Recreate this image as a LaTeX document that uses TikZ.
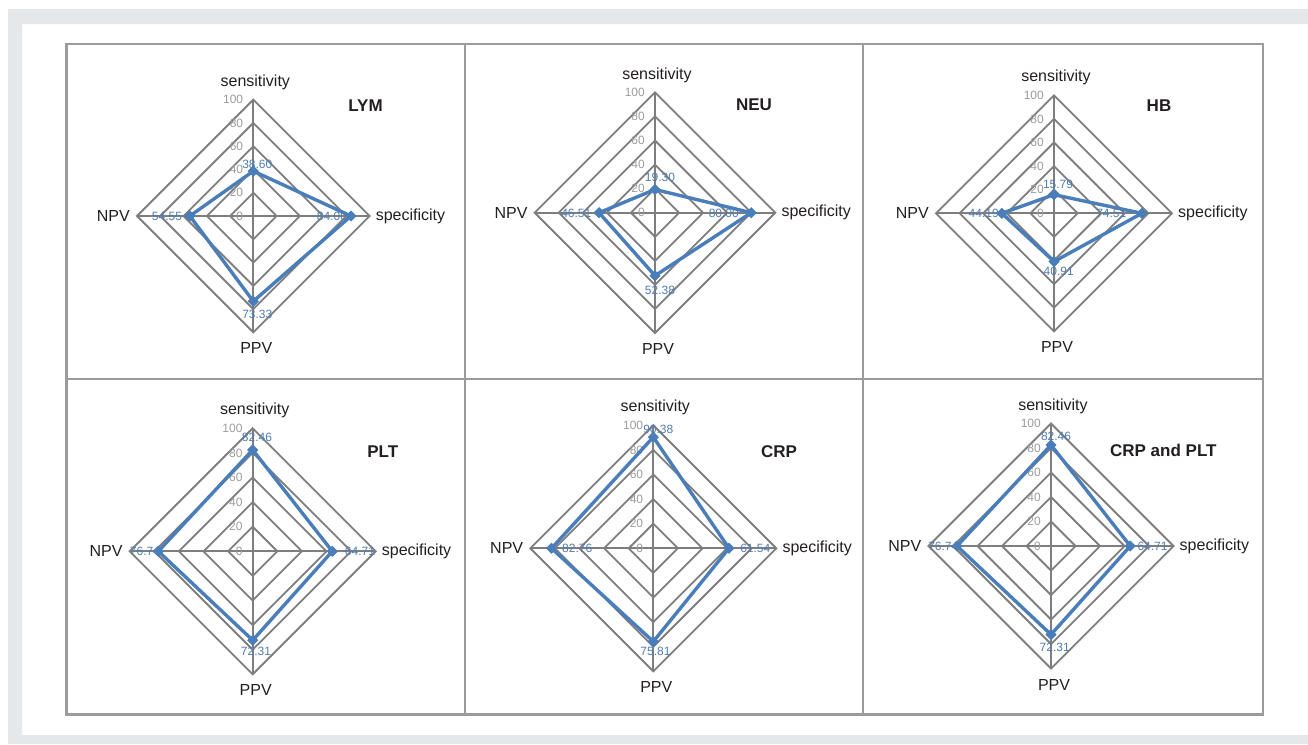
\documentclass[tikz,border=0pt]{standalone}
\usepackage{fontspec}
\setmainfont{Liberation Sans}
\usetikzlibrary{shapes.geometric}
\definecolor{gridc}{HTML}{7E7E7E}
\definecolor{tickc}{HTML}{9C9C9C}
\definecolor{datac}{HTML}{4A7EBB}
\definecolor{vlab}{HTML}{4F7DB5}
\definecolor{framec}{HTML}{9B9B9B}
\definecolor{bgc}{HTML}{E6E7E8}
\definecolor{txt}{HTML}{231F20}
\newcommand\axfont{\fontsize{16}{19}\selectfont}
\newcommand\smfont{\fontsize{12}{14}\selectfont}
\newcommand\ttlfont{\fontsize{17}{20}\selectfont\bfseries}
\tikzset{
  gridline/.style={draw=gridc, line width=1.8},
  ticklab/.style={text=tickc, font=\smfont, inner sep=0, anchor=east},
  axlab/.style={text=txt, font=\axfont, inner sep=0},
  ttl/.style={text=txt, font=\ttlfont, inner sep=0},
  vallab/.style={text=vlab, font=\smfont, inner sep=0},
  mk/.style={diamond, fill=datac, inner sep=0, minimum size=11},
  dataline/.style={draw=datac, line width=3.4, line join=round},
  framebox/.style={draw=framec, line width=2.5},
  divider/.style={draw=framec, line width=2},
}
% #1 id, #2 cx, #3 cy, #4 R, #5 sens, #6 spec, #7 ppv, #8 npv
\newcommand\radar[8]{%
\begin{scope}[shift={(#2,#3)}]
  \foreach \k in {1,...,5}
    \draw[gridline] (0,-\k*#4/5) -- (\k*#4/5,0) -- (0,\k*#4/5) -- (-\k*#4/5,0) -- cycle;
  \draw[gridline] (0,-#4) -- (0,#4);
  \draw[gridline] (-#4,0) -- (#4,0);
  \foreach \v in {0,20,40,60,80,100}
    \node[ticklab] at (-10,-\v*#4/100) {\v};
  \node[axlab] (#1-sl) at (2,-#4-17.5) {sensitivity};
  \node[axlab, anchor=west] (#1-rl) at (#4+6,0) {specificity};
  \node[axlab] (#1-pl) at (3,#4+16) {PPV};
  \node[axlab, anchor=east] (#1-nl) at (-#4-7,0) {NPV};
  \node[mk] (#1-s) at (0,-#5*#4/100) {};
  \node[mk] (#1-r) at (#6*#4/100,0) {};
  \node[mk] (#1-p) at (0,#7*#4/100) {};
  \node[mk] (#1-n) at (-#8*#4/100,0) {};
  \draw[dataline] (#1-s.center) -- (#1-r.center) -- (#1-p.center) -- (#1-n.center) -- cycle;
  \node[mk] at (#1-s) {};
  \node[mk] at (#1-r) {};
  \node[mk] at (#1-p) {};
  \node[mk] at (#1-n) {};
\end{scope}}
\begin{document}
\begin{tikzpicture}[x=1pt,y=-1pt]
\useasboundingbox (0,0) rectangle (1308,744);
\fill[white] (0,0) rectangle (1308,744);
\fill[bgc] (8,9) -- (1308,9) -- (1308,24) -- (22,24) -- (22,735) -- (1308,735) -- (1308,744) -- (8,744) -- cycle;
% frame
\draw[divider] (465,44) -- (465,714.5);
\draw[divider] (863,44) -- (863,714.5);
\draw[divider] (66.5,379) -- (1263,379);
\draw[framebox] (66.5,44) rectangle (1263,714.5);
% panels
\radar{lym}{253.3}{216}{116.3}{38.60}{84.00}{73.33}{54.55}
\radar{neu}{655}{212.7}{120.3}{19.30}{80.00}{52.38}{46.51}
\radar{hb}{1054}{213.3}{118}{15.79}{74.51}{40.91}{44.19}
\radar{plt}{252.7}{551.3}{123}{82.46}{64.71}{72.31}{76.74}
\radar{crp}{653.3}{548.3}{123}{90.38}{61.54}{75.81}{82.76}
\radar{cp}{1051}{546}{122.5}{82.46}{64.71}{72.31}{76.74}
% titles
\node[ttl] (t1) at (365.5,105.8) {LYM};
\node[ttl] (t2) at (754,105) {NEU};
\node[ttl] (t3) at (1159,105.8) {HB};
\node[ttl] (t4) at (382.7,451.5) {PLT};
\node[ttl] (t5) at (779,451.7) {CRP};
\node[ttl] (t6) at (1163.3,450) {CRP and PLT};
% value labels
\node[vallab] (v1a) at (257.3,164.3) {38.60};
\node[vallab] (v1b) at (332,216.5) {84.00};
\node[vallab] (v1c) at (167,216) {54.55};
\node[vallab] (v1d) at (257.3,314) {73.33};
\node[vallab] (v2a) at (660,177.5) {19.30};
\node[vallab] (v2b) at (723.8,213) {80.00};
\node[vallab] (v2c) at (576.3,213) {46.51};
\node[vallab] (v2d) at (660,290.5) {52.38};
\node[vallab] (v3a) at (1058,184) {15.79};
\node[vallab] (v3b) at (1111.3,213) {74.51};
\node[vallab] (v3c) at (983.7,213) {44.19};
\node[vallab] (v3d) at (1058.7,271.7) {40.91};
\node[vallab] (v4a) at (257,437.5) {82.46};
\node[vallab] (v4b) at (360,551) {64.71};
\node[vallab] (v4c) at (145,551) {76.74};
\node[vallab] (v4d) at (256,651.7) {72.31};
\node[vallab] (v5a) at (658.3,429) {90.38};
\node[vallab] (v5b) at (755.3,548) {61.54};
\node[vallab] (v5c) at (577.2,548) {82.76};
\node[vallab] (v5d) at (655.5,651) {75.81};
\node[vallab] (v6a) at (1056,436) {82.46};
\node[vallab] (v6b) at (1152.5,546) {64.71};
\node[vallab] (v6c) at (943.3,546) {76.74};
\node[vallab] (v6d) at (1054.7,647) {72.31};
\end{tikzpicture}
\end{document}
